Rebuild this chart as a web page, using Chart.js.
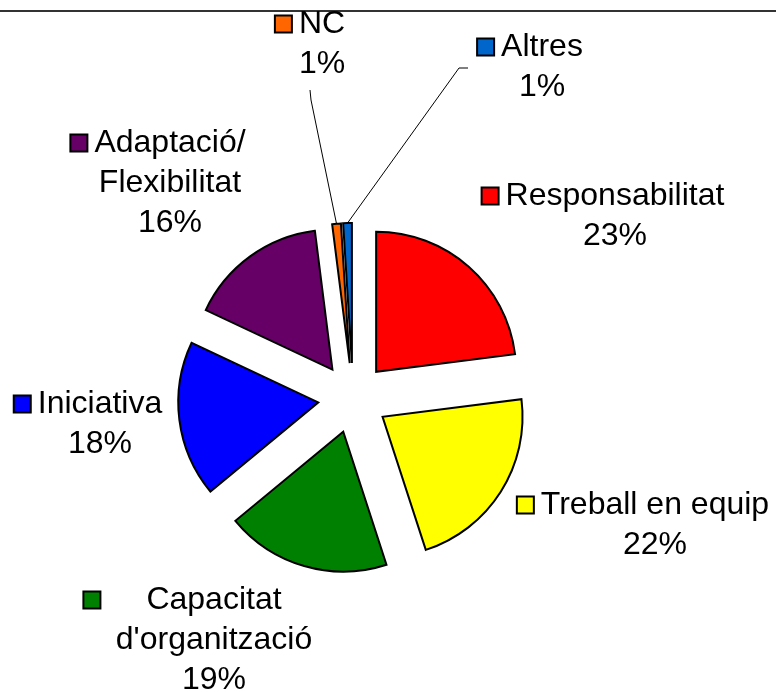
<!DOCTYPE html>
<html>
<head>
<meta charset="utf-8">
<script src="https://cdn.jsdelivr.net/npm/chart.js@4.4.0/dist/chart.umd.min.js"></script>
<style>
  html, body { margin: 0; padding: 0; background: #fff; }
  canvas { display: block; }
</style>
</head>
<body>
<canvas id="myChart" width="776" height="692"></canvas>
<script>
// Categories and their shares (percent), clockwise from 12 o'clock
const categories = ['Responsabilitat', 'Treball en equip', "Capacitat d'organització", 'Iniciativa', 'Adaptació/Flexibilitat', 'NC', 'Altres'];
const values = [23, 22, 19, 18, 16, 1, 1];

// How each category name is broken into lines in the labels
const labelLines = [
    ['Responsabilitat'],
    ['Treball en equip'],
    ['Capacitat', "d'organització"],
    ['Iniciativa'],
    ['Adaptació/', 'Flexibilitat'],
    ['NC'],
    ['Altres']
];

const sliceColors = ['#FF0000', '#FFFF00', '#008000', '#0000FF', '#660066', '#FF6600', '#0066CC'];

// Label block placement relative to the pie centre, gap before the key box, optional leader line
const labelLayout = [
    { dx: 262, dy: -182, gap: 7 },
    { dx: 302, dy: 127, gap: 7 },
    { dx: -139, dy: 242, gap: 46 },
    { dx: -253, dy: 26, gap: 7 },
    { dx: -183, dy: -215, gap: 7 },
    { dx: -31, dy: -354, gap: 7, leader: [[-12, 46], [-11, 56]] },
    { dx: 189, dy: -331, gap: 7, leader: [[-74, 1], [-83, 1]] }
];

const EXPLODE = 35;   // every slice pulled out by this many px
const FONT = '32px "Liberation Sans", Arial, sans-serif';
const LINE_H = 40;

const total = values.reduce((a, b) => a + b, 0);

// Pull each slice away from the centre along its bisector (Excel "explosion")
const explodePlugin = {
    id: 'explode',
    afterDatasetsUpdate(chart) {
        chart.getDatasetMeta(0).data.forEach(arc => {
            const mid = (arc.startAngle + arc.endAngle) / 2;
            arc.x += Math.cos(mid) * EXPLODE;
            arc.y += Math.sin(mid) * EXPLODE;
        });
    }
};

// Draws the frame line on top plus the Excel-style data labels
const labelPlugin = {
    id: 'sliceLabels',
    beforeDraw(chart) {
        const ctx = chart.ctx;
        ctx.save();
        ctx.strokeStyle = '#333333';
        ctx.lineWidth = 2;
        ctx.beginPath();
        ctx.moveTo(0, 11);
        ctx.lineTo(chart.width, 11);
        ctx.stroke();
        ctx.restore();
    },
    afterDatasetsDraw(chart) {
        const ctx = chart.ctx;
        const meta = chart.getDatasetMeta(0);
        const cx = (chart.chartArea.left + chart.chartArea.right) / 2;
        const cy = (chart.chartArea.top + chart.chartArea.bottom) / 2;
        ctx.save();
        ctx.font = FONT;
        ctx.textAlign = 'center';
        ctx.textBaseline = 'middle';
        meta.data.forEach((arc, i) => {
            const lay = labelLayout[i];
            const bx = cx + lay.dx;
            const by = cy + lay.dy;
            const pct = Math.round(values[i] / total * 100) + '%';
            const lines = labelLines[i].concat([pct]);
            const top = by - (lines.length - 1) * LINE_H / 2;

            lines.forEach((t, k) => {
                const y = top + k * LINE_H;
                ctx.fillStyle = '#000';
                ctx.fillText(t, bx, y);
                if (k === 0) {
                    // legend key in front of the first line
                    const w = ctx.measureText(t).width;
                    const kx = bx - w / 2 - lay.gap - 17;
                    ctx.fillStyle = sliceColors[i];
                    ctx.fillRect(kx, y - 8.5, 17, 17);
                    ctx.strokeStyle = '#000';
                    ctx.lineWidth = 2;
                    ctx.strokeRect(kx, y - 8.5, 17, 17);
                }
            });

            if (lay.leader) {
                const mid = (arc.startAngle + arc.endAngle) / 2;
                const ex = arc.x + Math.cos(mid) * arc.outerRadius;
                const ey = arc.y + Math.sin(mid) * arc.outerRadius;
                ctx.strokeStyle = '#000';
                ctx.lineWidth = 1;
                ctx.beginPath();
                ctx.moveTo(bx + lay.leader[0][0], by + lay.leader[0][1]);
                ctx.lineTo(bx + lay.leader[1][0], by + lay.leader[1][1]);
                ctx.lineTo(ex, ey);
                ctx.stroke();
            }
        });
        ctx.restore();
    }
};

const ctx = document.getElementById('myChart').getContext('2d');

// Exploded pie chart
new Chart(ctx, {
    type: 'pie',
    data: {
        labels: categories,
        datasets: [{
            data: values,
            backgroundColor: sliceColors,
            borderColor: '#000000',
            borderWidth: 2,
            borderJoinStyle: 'miter'
        }]
    },
    options: {
        responsive: false,
        animation: false,
        events: [],
        radius: 140,
        layout: {
            padding: { left: 0, right: 70, top: 104, bottom: 0 }
        },
        plugins: {
            legend: { display: false },
            tooltip: { enabled: false },
            title: { display: false }
        }
    },
    plugins: [explodePlugin, labelPlugin]
});
</script>
</body>
</html>
